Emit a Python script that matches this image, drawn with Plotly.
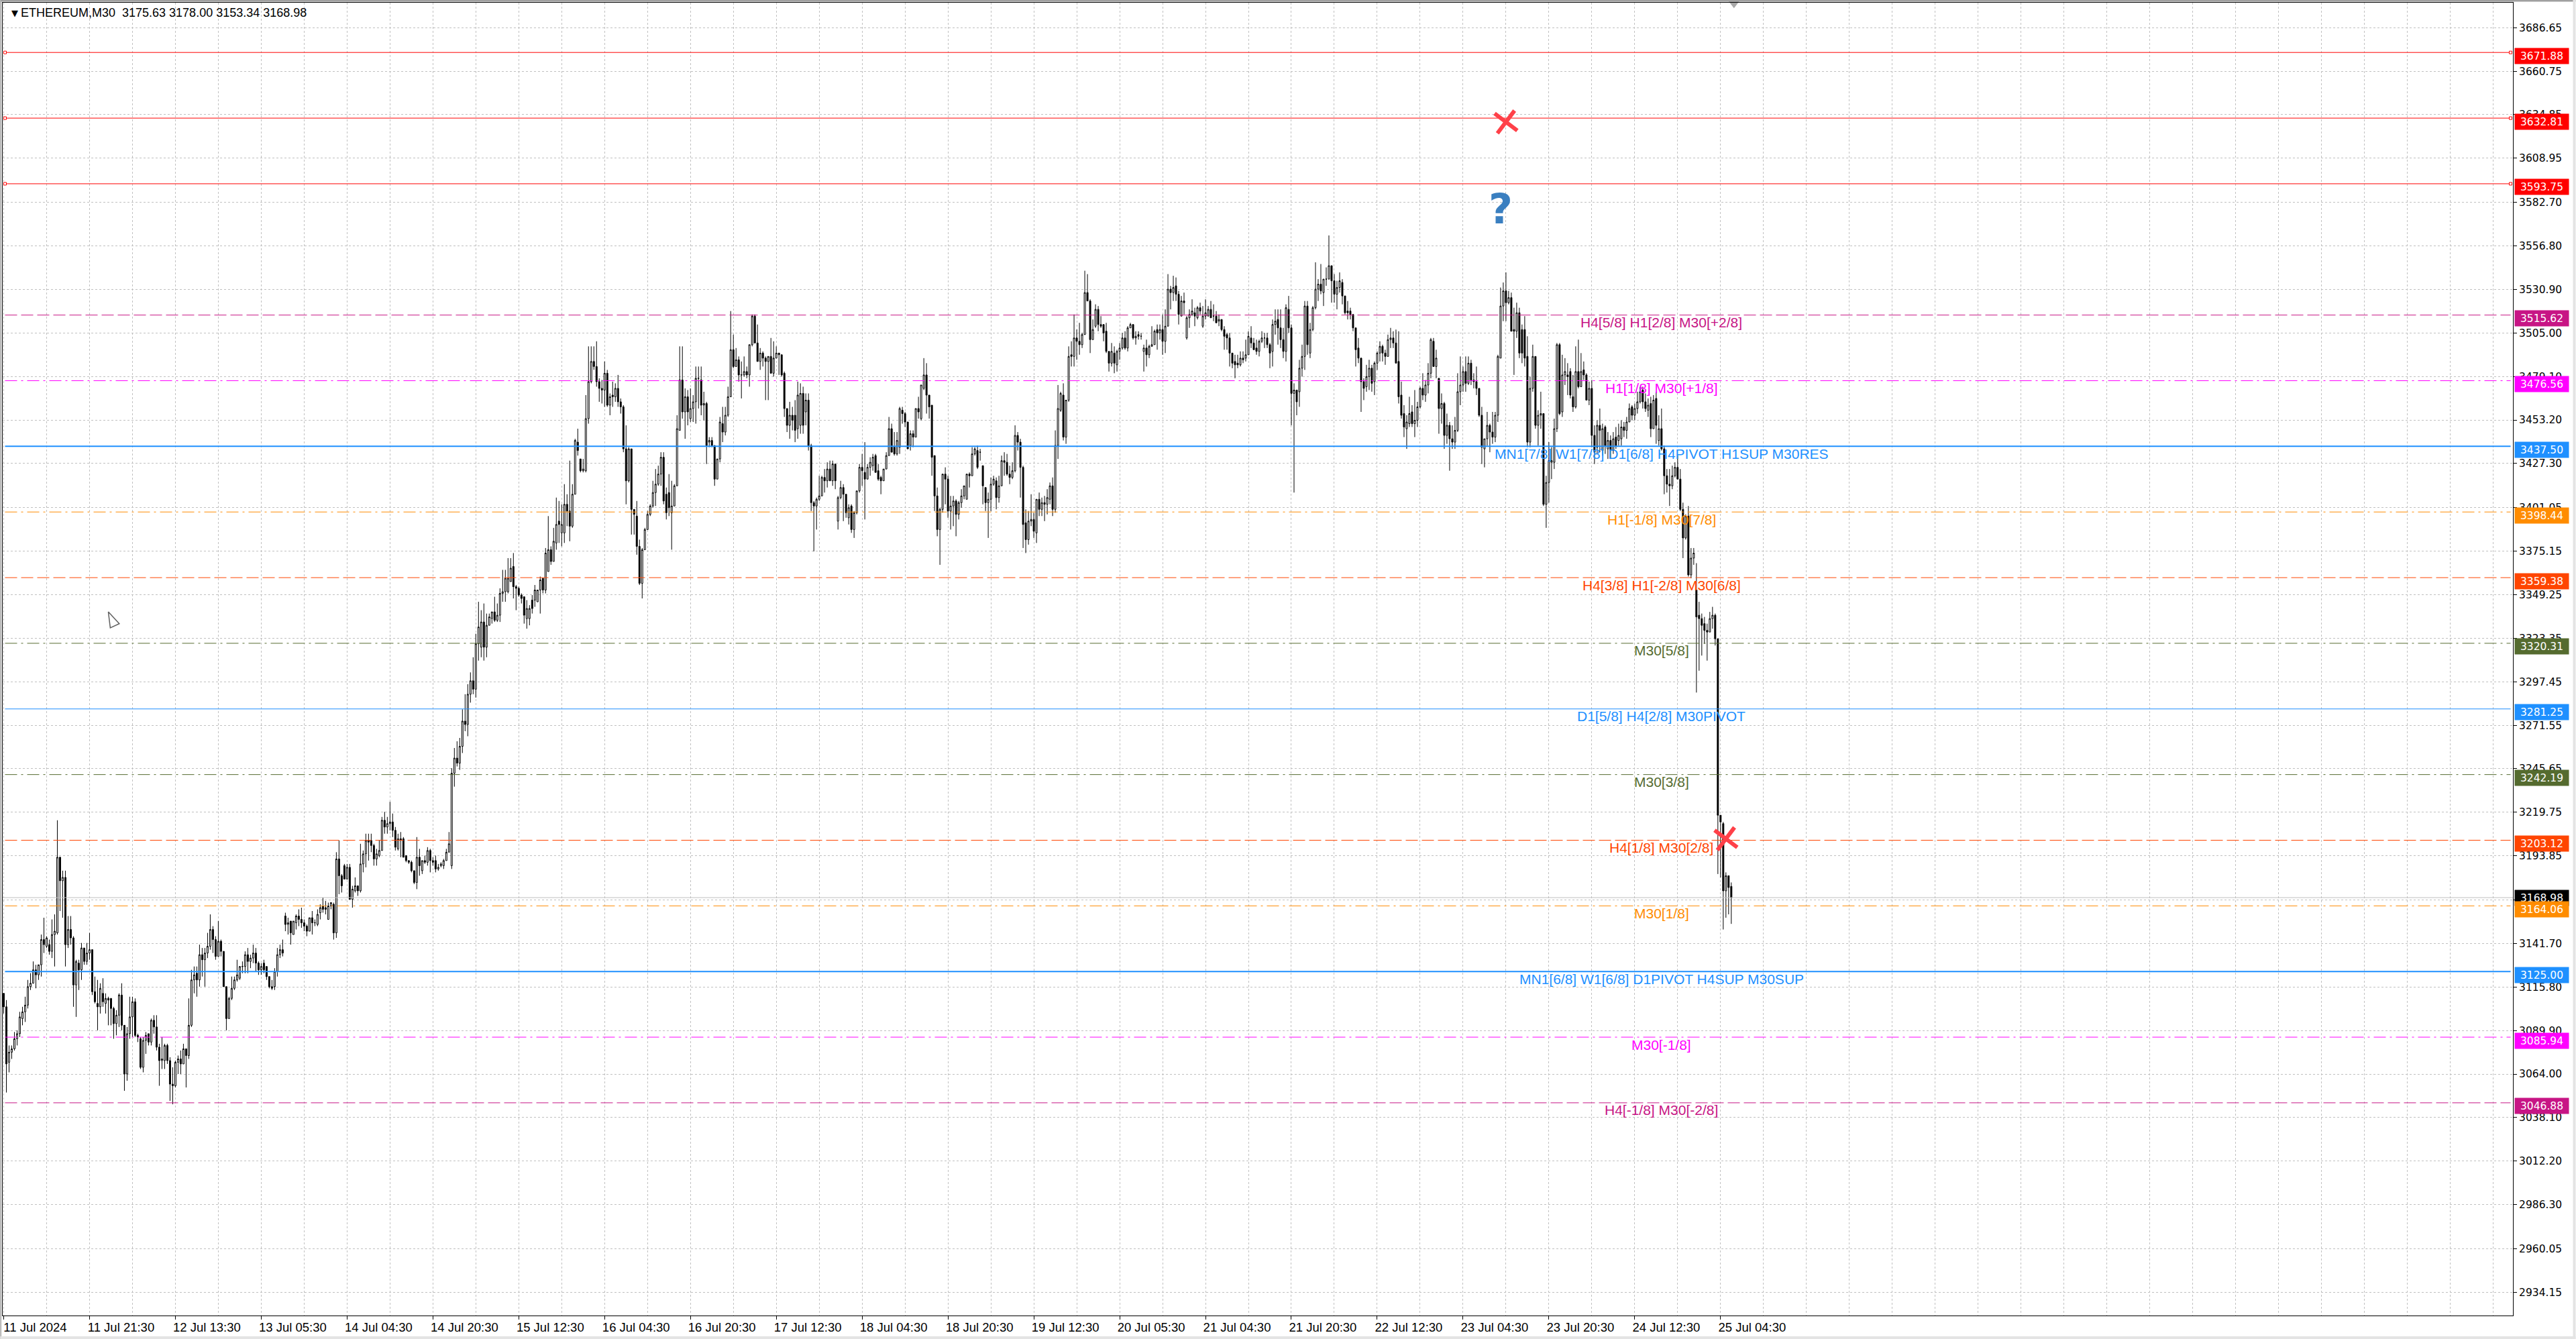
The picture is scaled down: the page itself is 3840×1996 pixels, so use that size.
import plotly.graph_objects as go

W, H = 3840, 1996
LEFT, RIGHT, TOP, BOTTOM = 3.5, 3746.5, 4, 1961

# ETHEREUM M30 bars
opens = [
    3112,3104,3071,3077,3079,3085,3088,3097,3101,3105,
    3116,3118,3126,3123,3129,3144,3140,3141,3137,3147,
    3148,3193,3179,3181,3141,3150,3145,3117,3130,3126,
    3139,3131,3136,3138,3113,3106,3104,3112,3106,3109,
    3109,3103,3094,3099,3111,3093,3064,3088,3098,3107,
    3087,3085,3068,3084,3088,3083,3096,3092,3080,3072,
    3072,3081,3072,3058,3057,3071,3073,3070,3079,3075,
    3093,3120,3124,3120,3135,3132,3136,3140,3150,3144,
    3134,3143,3137,3116,3097,3109,3115,3120,3121,3128,
    3128,3135,3131,3133,3136,3130,3126,3130,3128,3122,
    3116,3116,3125,3135,3138,3158,3153,3155,3147,3154,
    3158,3156,3154,3152,3149,3157,3154,3153,3160,3164,
    3163,3156,3164,3165,3148,3192,3182,3188,3180,3187,
    3168,3173,3176,3173,3189,3195,3203,3203,3200,3192,
    3194,3197,3215,3211,3213,3214,3209,3198,3204,3204,
    3194,3191,3190,3185,3178,3193,3185,3191,3190,3197,
    3191,3191,3186,3188,3188,3191,3196,3188,3243,3252,
    3249,3259,3274,3272,3290,3298,3293,3320,3318,3333,
    3318,3331,3335,3339,3334,3337,3350,3351,3351,3357,
    3366,3354,3353,3349,3348,3335,3335,3346,3346,3345,
    3352,3359,3352,3363,3376,3369,3380,3393,3386,3386,
    3403,3399,3390,3409,3440,3430,3423,3423,3454,3476,
    3488,3485,3476,3472,3471,3481,3462,3468,3467,3472,
    3464,3461,3436,3417,3436,3400,3396,3378,3356,3376,
    3388,3397,3402,3410,3415,3421,3431,3409,3410,3398,
    3402,3414,3447,3477,3458,3467,3454,3460,3464,3478,
    3477,3462,3463,3440,3441,3438,3418,3430,3451,3446,
    3456,3467,3495,3485,3489,3480,3480,3482,3480,3498,
    3515,3499,3488,3493,3490,3488,3491,3481,3490,3493,
    3492,3481,3460,3450,3456,3456,3448,3450,3469,3458,
    3465,3438,3404,3402,3406,3408,3419,3417,3424,3417,
    3427,3393,3407,3413,3409,3395,3402,3388,3398,3411,
    3425,3422,3418,3425,3426,3432,3423,3419,3417,3424,
    3432,3448,3437,3433,3437,3459,3457,3452,3438,3445,
    3443,3460,3454,3472,3480,3468,3462,3432,3408,3388,
    3400,3421,3418,3399,3402,3405,3397,3404,3408,3406,
    3421,3420,3433,3435,3434,3426,3413,3404,3406,3415,
    3417,3407,3414,3429,3428,3421,3419,3423,3444,3440,
    3425,3392,3382,3393,3394,3386,3406,3400,3404,3403,
    3406,3414,3400,3438,3459,3468,3443,3465,3492,3491,
    3502,3500,3498,3504,3529,3524,3501,3509,3519,3510,
    3510,3506,3494,3487,3493,3486,3494,3496,3502,3496,
    3508,3510,3502,3504,3503,3494,3496,3492,3497,3498,
    3507,3505,3507,3500,3509,3531,3529,3533,3528,3515,
    3524,3502,3514,3516,3517,3514,3520,3509,3515,3515,
    3519,3515,3515,3512,3513,3507,3504,3502,3493,3488,
    3487,3486,3490,3490,3492,3502,3499,3496,3494,3500,
    3502,3502,3498,3494,3510,3513,3508,3501,3494,3519,
    3508,3469,3471,3470,3484,3491,3521,3493,3507,3520,
    3531,3534,3529,3537,3537,3545,3536,3528,3532,3535,
    3527,3518,3518,3516,3508,3496,3490,3476,3473,3479,
    3484,3476,3487,3493,3497,3493,3491,3501,3502,3499,
    3488,3468,3457,3448,3451,3458,3451,3453,3461,3472,
    3468,3474,3481,3500,3485,3478,3460,3463,3444,3450,
    3442,3440,3447,3470,3474,3482,3475,3487,3477,3476,
    3472,3456,3436,3442,3450,3446,3443,3456,3490,3521,
    3530,3523,3526,3507,3506,3517,3507,3507,3491,3440,
    3472,3491,3450,3456,3457,3403,3416,3428,3428,3448,
    3498,3458,3480,3480,3482,3467,3461,3482,3473,3483,
    3480,3465,3472,3444,3437,3450,3435,3449,3436,3441,
    3435,3443,3441,3442,3449,3447,3452,3461,3456,3460,
    3464,3471,3464,3459,3463,3448,3466,3441,3448,3436,
    3420,3415,3414,3420,3425,3418,3400,3383,3396,3361,
    3371,3352,3337,3335,3332,3328,3327,3335,3337,3323,
    3218,3213,3173,3182,3175.63,
]
highs = [
    3112,3108,3081,3081,3089,3090,3101,3104,3110,3120,
    3124,3131,3129,3129,3147,3157,3146,3144,3156,3159,
    3215,3193,3185,3185,3158,3158,3146,3132,3132,3142,
    3139,3142,3148,3138,3122,3120,3118,3121,3112,3110,
    3109,3104,3102,3112,3118,3093,3092,3110,3110,3109,
    3088,3086,3086,3089,3088,3097,3099,3099,3082,3086,
    3082,3082,3074,3068,3072,3075,3078,3082,3079,3109,
    3126,3128,3128,3141,3139,3139,3148,3159,3152,3146,
    3155,3144,3137,3116,3110,3122,3122,3132,3128,3131,
    3137,3139,3135,3141,3139,3131,3130,3132,3128,3122,
    3120,3127,3139,3141,3144,3160,3157,3155,3155,3159,
    3162,3163,3156,3153,3157,3161,3156,3162,3165,3169,
    3167,3166,3166,3166,3196,3203,3183,3189,3189,3189,
    3176,3181,3176,3201,3197,3207,3207,3207,3201,3198,
    3203,3217,3220,3217,3226,3219,3211,3207,3208,3205,
    3194,3191,3191,3185,3205,3198,3191,3194,3199,3198,
    3193,3194,3189,3190,3192,3198,3208,3246,3258,3262,
    3264,3281,3290,3296,3303,3312,3326,3345,3340,3344,
    3338,3338,3339,3348,3344,3353,3364,3364,3371,3371,
    3374,3355,3354,3350,3348,3346,3343,3349,3355,3352,
    3360,3359,3377,3396,3378,3389,3407,3405,3403,3415,
    3409,3429,3415,3442,3448,3430,3430,3468,3497,3497,
    3497,3500,3478,3477,3488,3483,3469,3476,3475,3480,
    3466,3462,3450,3437,3436,3400,3405,3382,3377,3389,
    3399,3403,3417,3424,3426,3434,3434,3413,3421,3417,
    3415,3456,3497,3497,3472,3471,3472,3468,3485,3485,
    3485,3470,3464,3443,3443,3438,3430,3455,3461,3461,
    3473,3518,3504,3496,3491,3488,3491,3485,3498,3516,
    3516,3510,3496,3494,3491,3491,3502,3500,3497,3493,
    3492,3482,3460,3464,3461,3465,3476,3475,3473,3469,
    3469,3439,3405,3407,3420,3420,3424,3428,3429,3429,
    3427,3408,3417,3415,3409,3403,3403,3399,3411,3427,
    3433,3440,3427,3431,3433,3433,3427,3420,3424,3434,
    3455,3451,3446,3446,3461,3461,3458,3452,3447,3447,
    3460,3467,3474,3490,3487,3468,3462,3432,3413,3401,
    3421,3425,3420,3408,3408,3406,3405,3412,3414,3421,
    3422,3437,3437,3438,3436,3426,3413,3410,3419,3420,
    3419,3420,3432,3434,3433,3426,3428,3450,3446,3442,
    3426,3400,3399,3409,3398,3406,3410,3407,3408,3412,
    3416,3419,3447,3474,3470,3475,3465,3497,3500,3516,
    3507,3511,3505,3542,3540,3525,3513,3522,3521,3515,
    3510,3511,3494,3499,3497,3495,3499,3505,3506,3509,
    3511,3510,3506,3506,3505,3498,3501,3498,3509,3507,
    3510,3510,3516,3519,3540,3533,3539,3538,3530,3527,
    3529,3515,3519,3525,3520,3521,3523,3521,3525,3521,
    3524,3522,3518,3516,3513,3509,3505,3505,3493,3492,
    3492,3494,3494,3501,3506,3509,3502,3501,3501,3506,
    3505,3505,3499,3513,3519,3519,3519,3508,3522,3527,
    3510,3475,3471,3489,3498,3524,3524,3511,3521,3547,
    3537,3546,3537,3544,3563,3545,3540,3536,3541,3537,
    3527,3524,3520,3516,3508,3502,3490,3478,3486,3489,
    3486,3488,3494,3500,3498,3495,3504,3508,3506,3507,
    3506,3476,3462,3456,3467,3462,3471,3464,3473,3481,
    3477,3487,3502,3502,3495,3478,3469,3464,3457,3452,
    3450,3455,3481,3491,3485,3491,3491,3489,3481,3485,
    3472,3461,3442,3458,3451,3458,3458,3492,3532,3535,
    3541,3530,3529,3520,3523,3520,3510,3515,3503,3479,
    3498,3491,3459,3470,3457,3420,3440,3437,3454,3499,
    3499,3492,3490,3487,3484,3480,3497,3501,3493,3488,
    3481,3476,3477,3450,3453,3460,3451,3450,3446,3444,
    3446,3449,3451,3453,3452,3455,3463,3462,3463,3470,
    3473,3473,3469,3466,3467,3468,3470,3456,3460,3438,
    3424,3424,3426,3428,3432,3424,3404,3397,3402,3377,
    3377,3368,3345,3338,3336,3332,3339,3342,3338,3323,
    3218,3214,3184,3182,3178.00,
]
lows = [
    3100,3053,3065,3073,3078,3081,3086,3093,3095,3103,
    3114,3118,3115,3120,3122,3136,3139,3135,3133,3128,
    3147,3161,3157,3128,3139,3141,3104,3098,3114,3120,
    3129,3129,3132,3111,3106,3090,3100,3104,3100,3093,
    3093,3085,3087,3092,3090,3054,3060,3085,3086,3086,
    3083,3067,3065,3076,3081,3081,3088,3078,3057,3067,
    3067,3070,3048,3046,3056,3064,3064,3070,3056,3073,
    3092,3112,3110,3116,3122,3116,3133,3138,3136,3132,
    3134,3134,3116,3090,3097,3108,3114,3119,3120,3124,
    3124,3124,3127,3130,3125,3123,3123,3124,3120,3115,
    3114,3114,3122,3133,3134,3149,3147,3141,3147,3150,
    3152,3151,3149,3146,3149,3147,3152,3152,3156,3160,
    3159,3156,3162,3144,3145,3171,3172,3180,3180,3168,
    3163,3172,3170,3172,3184,3187,3191,3196,3188,3188,
    3193,3197,3207,3207,3209,3205,3197,3197,3193,3193,
    3190,3189,3184,3177,3174,3182,3183,3189,3188,3184,
    3188,3184,3185,3187,3186,3191,3196,3186,3235,3247,
    3245,3255,3268,3265,3285,3290,3288,3310,3312,3310,
    3312,3331,3332,3333,3333,3333,3345,3345,3350,3357,
    3347,3340,3348,3344,3332,3329,3331,3338,3342,3345,
    3338,3350,3350,3363,3367,3369,3376,3380,3378,3380,
    3390,3381,3389,3409,3432,3422,3422,3422,3451,3475,
    3483,3473,3464,3463,3461,3461,3456,3461,3464,3461,
    3457,3434,3403,3416,3385,3385,3373,3355,3347,3376,
    3388,3396,3401,3402,3414,3414,3403,3394,3396,3376,
    3402,3414,3447,3454,3442,3450,3452,3452,3451,3460,
    3456,3453,3427,3437,3437,3414,3418,3428,3440,3444,
    3455,3467,3484,3485,3476,3466,3479,3478,3473,3497,
    3499,3488,3483,3485,3465,3465,3481,3479,3490,3480,
    3479,3455,3446,3442,3447,3440,3442,3445,3445,3450,
    3435,3399,3375,3388,3405,3408,3410,3413,3417,3414,
    3412,3388,3406,3393,3395,3391,3386,3383,3397,3410,
    3414,3394,3418,3420,3423,3422,3417,3409,3417,3424,
    3432,3434,3432,3432,3433,3451,3449,3436,3435,3437,
    3443,3454,3453,3471,3457,3454,3420,3399,3384,3367,
    3398,3403,3395,3388,3390,3384,3394,3401,3406,3406,
    3413,3420,3432,3424,3429,3403,3399,3383,3399,3414,
    3400,3404,3414,3420,3420,3415,3418,3422,3435,3407,
    3377,3374,3379,3390,3383,3380,3396,3396,3393,3397,
    3403,3396,3398,3430,3458,3441,3439,3464,3485,3485,
    3489,3492,3496,3504,3524,3493,3501,3508,3506,3508,
    3500,3493,3482,3485,3481,3482,3489,3495,3495,3494,
    3508,3501,3498,3501,3501,3482,3485,3490,3497,3498,
    3495,3501,3492,3493,3509,3519,3524,3524,3510,3515,
    3516,3501,3508,3515,3509,3513,3516,3508,3513,3515,
    3514,3512,3511,3509,3506,3495,3495,3485,3484,3478,
    3484,3485,3487,3488,3492,3496,3495,3492,3491,3499,
    3496,3496,3484,3485,3504,3498,3496,3490,3488,3505,
    3450,3410,3456,3461,3479,3483,3492,3490,3506,3519,
    3524,3528,3521,3533,3537,3523,3523,3519,3529,3522,
    3516,3513,3513,3506,3485,3487,3458,3465,3470,3471,
    3470,3468,3483,3488,3488,3486,3491,3496,3496,3487,
    3463,3454,3443,3436,3449,3449,3443,3449,3460,3465,
    3464,3469,3478,3485,3478,3445,3451,3436,3439,3423,
    3436,3436,3446,3462,3470,3470,3474,3474,3472,3468,
    3455,3427,3425,3438,3434,3439,3440,3452,3490,3512,
    3512,3522,3506,3480,3502,3490,3487,3485,3437,3437,
    3470,3448,3438,3448,3402,3389,3404,3418,3424,3446,
    3456,3455,3474,3468,3466,3458,3460,3472,3473,3477,
    3465,3462,3437,3427,3433,3434,3432,3433,3430,3430,
    3433,3436,3438,3438,3443,3442,3452,3453,3453,3457,
    3463,3460,3458,3455,3443,3448,3439,3438,3435,3409,
    3410,3402,3412,3419,3418,3399,3371,3382,3360,3359,
    3367,3291,3304,3313,3320,3310,3327,3329,3319,3183,
    3181,3150,3157,3159,3153.34,
]
closes = [
    3104,3070,3077,3079,3085,3088,3098,3101,3105,3116,
    3118,3126,3123,3129,3144,3141,3145,3137,3147,3149,
    3193,3179,3181,3141,3150,3145,3117,3131,3126,3139,
    3131,3136,3138,3113,3107,3104,3115,3107,3109,3108,
    3103,3094,3099,3111,3093,3064,3088,3098,3107,3087,
    3086,3068,3084,3087,3083,3096,3092,3080,3072,3073,
    3081,3072,3058,3057,3071,3073,3070,3079,3075,3093,
    3120,3123,3120,3135,3132,3136,3140,3150,3144,3134,
    3143,3137,3116,3097,3109,3115,3120,3123,3128,3128,
    3135,3131,3133,3136,3130,3126,3128,3126,3122,3116,
    3115,3125,3135,3138,3136,3153,3154,3148,3155,3158,
    3156,3154,3152,3149,3157,3154,3154,3159,3163,3162,
    3162,3164,3166,3148,3192,3182,3176,3180,3187,3168,
    3174,3176,3173,3189,3195,3203,3202,3200,3192,3195,
    3197,3215,3211,3213,3214,3209,3199,3204,3203,3193,
    3191,3190,3185,3178,3193,3188,3191,3190,3197,3191,
    3190,3186,3187,3189,3191,3196,3201,3243,3252,3249,
    3259,3274,3272,3290,3298,3293,3320,3330,3333,3318,
    3331,3336,3339,3334,3337,3350,3351,3359,3359,3365,
    3354,3353,3349,3347,3337,3341,3341,3341,3352,3352,
    3358,3352,3374,3376,3369,3381,3391,3391,3391,3403,
    3399,3390,3409,3441,3435,3423,3424,3454,3476,3488,
    3485,3476,3472,3471,3481,3462,3467,3467,3472,3464,
    3461,3436,3417,3436,3400,3397,3378,3356,3376,3388,
    3397,3402,3410,3415,3421,3431,3405,3398,3401,3402,
    3414,3448,3477,3458,3467,3458,3460,3464,3478,3478,
    3462,3463,3438,3441,3438,3418,3430,3452,3446,3456,
    3467,3495,3485,3489,3480,3480,3482,3480,3498,3515,
    3499,3488,3493,3490,3488,3491,3481,3490,3493,3492,
    3480,3460,3450,3456,3453,3447,3468,3469,3450,3465,
    3438,3404,3402,3406,3408,3419,3417,3424,3417,3427,
    3417,3407,3413,3409,3398,3401,3388,3398,3411,3425,
    3423,3418,3425,3428,3431,3422,3418,3417,3424,3432,
    3448,3434,3433,3441,3460,3457,3452,3436,3445,3443,
    3460,3458,3474,3480,3468,3461,3431,3408,3388,3400,
    3421,3418,3399,3402,3405,3397,3404,3408,3414,3421,
    3420,3433,3436,3425,3434,3414,3404,3406,3415,3418,
    3407,3414,3429,3428,3421,3419,3423,3444,3440,3425,
    3391,3382,3393,3394,3387,3406,3400,3404,3403,3407,
    3414,3400,3438,3460,3469,3443,3465,3491,3491,3502,
    3500,3498,3504,3529,3524,3501,3507,3519,3510,3509,
    3505,3494,3487,3494,3487,3494,3496,3502,3496,3508,
    3510,3502,3503,3503,3503,3496,3492,3497,3498,3506,
    3505,3507,3500,3509,3531,3529,3532,3528,3516,3524,
    3523,3514,3516,3518,3515,3520,3518,3515,3517,3519,
    3514,3515,3511,3513,3507,3503,3502,3493,3487,3486,
    3486,3490,3489,3492,3503,3499,3495,3494,3500,3502,
    3502,3498,3493,3510,3512,3508,3501,3494,3520,3508,
    3469,3471,3464,3484,3491,3521,3498,3507,3520,3531,
    3534,3530,3537,3537,3545,3536,3528,3532,3536,3527,
    3517,3517,3516,3508,3495,3490,3476,3472,3479,3484,
    3475,3487,3493,3497,3493,3491,3501,3502,3499,3487,
    3467,3456,3449,3452,3457,3451,3453,3461,3472,3468,
    3474,3481,3501,3485,3490,3460,3463,3444,3450,3442,
    3440,3447,3470,3474,3482,3475,3487,3477,3476,3472,
    3456,3437,3442,3450,3446,3443,3456,3491,3521,3530,
    3523,3526,3506,3506,3517,3493,3493,3490,3440,3472,
    3491,3450,3456,3457,3403,3416,3429,3429,3448,3498,
    3457,3480,3482,3479,3468,3461,3482,3473,3482,3480,
    3465,3472,3444,3434,3450,3447,3448,3438,3441,3435,
    3442,3438,3444,3449,3447,3452,3460,3456,3460,3464,
    3470,3464,3460,3462,3448,3465,3450,3448,3436,3420,
    3415,3414,3420,3425,3418,3400,3383,3396,3361,3371,
    3374,3336,3335,3331,3328,3327,3335,3337,3323,3218,
    3214,3173,3182,3175,3168.98,
]
bar_index = list(range(len(closes)))

time_labels = [
    "11 Jul 2024", "11 Jul 21:30", "12 Jul 13:30", "13 Jul 05:30", "14 Jul 04:30",
    "14 Jul 20:30", "15 Jul 12:30", "16 Jul 04:30", "16 Jul 20:30", "17 Jul 12:30",
    "18 Jul 04:30", "18 Jul 20:30", "19 Jul 12:30", "20 Jul 05:30", "21 Jul 04:30",
    "21 Jul 20:30", "22 Jul 12:30", "23 Jul 04:30", "23 Jul 20:30", "24 Jul 12:30",
    "25 Jul 04:30",
]
time_ticks = [32 * k for k in range(len(time_labels))]
grid_ticks = list(range(0, 936, 16))

price_ticks = [
    3686.65, 3660.75, 3634.85, 3608.95, 3582.70, 3556.80, 3530.90, 3505.00, 3479.10, 3453.20,
    3427.30, 3401.05, 3375.15, 3349.25, 3323.35, 3297.45, 3271.55, 3245.65, 3219.75, 3193.85,
    3167.60, 3141.70, 3115.80, 3089.90, 3064.00, 3038.10, 3012.20, 2986.30, 2960.05, 2934.15,
]

# red trend levels with anchor squares
red_levels = [3671.88, 3632.81, 3593.75]

# murrey levels
level_prices = [3515.62, 3476.56, 3437.50, 3398.44, 3359.38, 3320.31, 3281.25,
                3242.19, 3203.12, 3164.06, 3125.00, 3085.94, 3046.88]
level_colors = ["#C71585", "#FF00FF", "#1E90FF", "#FF8C00", "#FF4500", "#556B2F", "#1E90FF",
                "#556B2F", "#FF4500", "#FF8C00", "#1E90FF", "#FF00FF", "#C71585"]
level_labels = [
    "H4[5/8] H1[2/8] M30[+2/8]",
    "H1[1/8] M30[+1/8]",
    "MN1[7/8] W1[7/8] D1[6/8] H4PIVOT H1SUP M30RES",
    "H1[-1/8] M30[7/8]",
    "H4[3/8] H1[-2/8] M30[6/8]",
    "M30[5/8]",
    "D1[5/8] H4[2/8] M30PIVOT",
    "M30[3/8]",
    "H4[1/8] M30[2/8]",
    "M30[1/8]",
    "MN1[6/8] W1[6/8] D1PIVOT H4SUP M30SUP",
    "M30[-1/8]",
    "H4[-1/8] M30[-2/8]",
]
level_dash = ["18px,6px", "18px,6px,3px,6px", "solid", "18px,6px,3px,6px", "18px,6px",
              "18px,6px,3px,6px", "solid", "18px,6px,3px,6px", "18px,6px",
              "18px,6px,3px,6px", "solid", "18px,6px,3px,6px", "18px,6px"]
level_width = [1, 1, 2, 1, 1, 1, 1, 1, 1, 1, 2, 1, 1]

last_price = 3168.98
header = "ETHEREUM,M30  3175.63 3178.00 3153.34 3168.98"
cross_x, cross_y = [560, 642], [3630.5, 3204.0]
question_x, question_y = [558], [3576.5]

LINE_X = [0.5, 934.5]
LABEL_X = 618

fig = go.Figure()

for p, c, d, w in zip(level_prices, level_colors, level_dash, level_width):
    fig.add_trace(go.Scatter(x=LINE_X, y=[p, p], mode="lines",
                             line=dict(color=c, dash=d, width=w), hoverinfo="skip"))

for p in red_levels:
    fig.add_trace(go.Scatter(x=LINE_X, y=[p, p], mode="lines+markers",
                             line=dict(color="#FF0000", width=1),
                             marker=dict(symbol="square", size=4, color="white",
                                         line=dict(color="#FF0000", width=1)),
                             hoverinfo="skip"))

fig.add_trace(go.Scatter(x=[-0.4, 935.4], y=[last_price, last_price], mode="lines",
                         line=dict(color="#C0C0C0", width=1), hoverinfo="skip"))

fig.add_trace(go.Candlestick(
    x=bar_index, open=opens, high=highs, low=lows, close=closes,
    increasing=dict(line=dict(color="black", width=1), fillcolor="white"),
    decreasing=dict(line=dict(color="black", width=1), fillcolor="black"),
    whiskerwidth=0,
))

fig.add_trace(go.Scatter(x=cross_x, y=cross_y, mode="markers", hoverinfo="skip",
                         marker=dict(symbol="x-thin", size=30, angle=-8,
                                     line=dict(color="#FF4048", width=6))))
fig.add_trace(go.Scatter(x=question_x, y=question_y, mode="text", text=["?"], hoverinfo="skip",
                         textfont=dict(family="DejaVu Sans", size=62, color="#3A7FC0", weight="bold")))
# mouse pointer left on the screenshot
fig.add_trace(go.Scatter(x=[39], y=[3339], mode="markers", hoverinfo="skip",
                         marker=dict(symbol="arrow", size=24, angle=-25, color="white",
                                     line=dict(color="#606060", width=1.5))))
# chart shift marker on the top edge
fig.add_trace(go.Scatter(x=[645], y=[3701], mode="markers", hoverinfo="skip", cliponaxis=False,
                         marker=dict(symbol="triangle-down", size=14, color="#A8A8A8")))

annotations = []
for p, c, t in zip(level_prices, level_colors, level_labels):
    annotations.append(dict(x=LABEL_X, y=p, xref="x", yref="y", text=t, showarrow=False, yshift=-11,
                            font=dict(family="Liberation Sans", size=21, color=c)))


def price_box(price, color, yshift):
    return dict(x=1, y=price, xref="paper", yref="y", xanchor="left", xshift=1.5, yshift=yshift,
                text=f"{price:.2f}", showarrow=False, width=80, height=23, bgcolor=color, borderpad=0,
                font=dict(family="DejaVu Sans", size=15.5, color="white"))


for p in red_levels:
    annotations.append(price_box(p, "#FF0000", -5))
annotations.append(price_box(last_price, "#000000", 0))
for p, c in zip(level_prices, level_colors):
    annotations.append(price_box(p, c, -5))


def px_x(v):
    return (v - LEFT) / (RIGHT - LEFT)


def px_y(v):
    return (BOTTOM - v) / (BOTTOM - TOP)


annotations.append(dict(x=px_x(29), y=px_y(19), xref="paper", yref="paper", xanchor="left",
                        yanchor="middle", text=header, showarrow=False,
                        font=dict(family="Liberation Sans", size=18, color="black")))
annotations.append(dict(x=px_x(14.5), y=px_y(19), xref="paper", yref="paper", yanchor="middle",
                        text="\u25bc", showarrow=False,
                        font=dict(family="DejaVu Sans", size=13, color="black")))

shapes = [
    dict(type="rect", xref="paper", yref="paper", x0=px_x(0), x1=px_x(W), y0=px_y(0), y1=px_y(2.5),
         fillcolor="#A0A0A0", line_width=0),
    dict(type="rect", xref="paper", yref="paper", x0=px_x(0), x1=px_x(1.5), y0=px_y(0), y1=px_y(H),
         fillcolor="#A0A0A0", line_width=0),
    dict(type="rect", xref="paper", yref="paper", x0=px_x(3836), x1=px_x(W), y0=px_y(0), y1=px_y(H),
         fillcolor="#E4E4E4", line_width=0),
    dict(type="rect", xref="paper", yref="paper", x0=px_x(0), x1=px_x(W), y0=px_y(1992), y1=px_y(H),
         fillcolor="#E4E4E4", line_width=0),
]

fig.update_layout(
    width=W, height=H, autosize=False,
    margin=dict(l=LEFT, r=W - RIGHT, t=TOP, b=H - BOTTOM, pad=0),
    paper_bgcolor="white", plot_bgcolor="white", showlegend=False,
    annotations=annotations, shapes=shapes,
    xaxis=dict(
        range=[-0.375, 935.375], rangeslider=dict(visible=False), tickmode="array",
        tickvals=time_ticks, ticktext=time_labels, ticklabelshift=47, ticklabelstandoff=-4,
        ticks="outside", ticklen=5, tickcolor="black", tickwidth=1,
        tickfont=dict(family="Liberation Sans", size=18.5, color="black"), tickangle=0,
        showgrid=True, gridcolor="#C0C0C0", griddash="3px,3px", gridwidth=1,
        minor=dict(tickmode="array", tickvals=grid_ticks, showgrid=True, gridcolor="#C0C0C0",
                   griddash="3px,3px", gridwidth=1, ticks=""),
        showline=True, linecolor="black", linewidth=1, mirror=True, zeroline=False,
    ),
    yaxis=dict(
        range=[2920.3, 3701.5], side="right", tickmode="array", tickvals=price_ticks,
        ticktext=[f"{v:.2f}" for v in price_ticks],
        ticks="outside", ticklen=5, tickcolor="black", tickwidth=1,
        tickfont=dict(family="DejaVu Sans", size=15.5, color="black"),
        showgrid=True, gridcolor="#C0C0C0", griddash="3px,3px", gridwidth=1,
        showline=True, linecolor="black", linewidth=1, mirror=True, zeroline=False,
    ),
)

# the page's default body margin would push the fixed-size figure off by 8px
fig.write_html("out.html", config=dict(displayModeBar=False),
               post_script="document.body.style.margin='0';")
